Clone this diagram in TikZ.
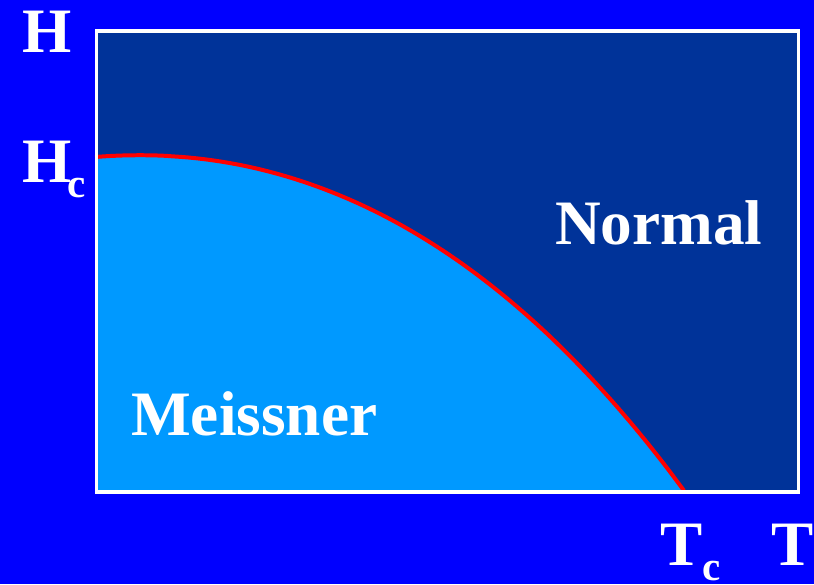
\documentclass[tikz,border=0pt]{standalone}
\usepackage{fontspec}
\setmainfont{Liberation Serif}
\usetikzlibrary{positioning}
\definecolor{bgblue}{RGB}{0,0,255}
\definecolor{normalblue}{RGB}{0,51,153}
\definecolor{meissblue}{RGB}{0,153,255}
\newcommand{\lowc}{\raisebox{-13pt}{\fontsize{35}{40}\selectfont c}}
\tikzset{lbl/.style={text=white,font=\fontsize{54}{60}\selectfont\bfseries,inner sep=0pt,anchor=base west},
  hcline/.style={red,line width=3.4pt}}

\begin{document}
\begin{tikzpicture}[x=0.03cm,y=-0.03cm]
\fill[bgblue] (0,0) rectangle (814,584);
\fill[normalblue] (95,30) rectangle (800,493);
% critical field curve H_c(T)
\fill[meissblue] (95,157) -- plot[domain=0.005:1,samples=120] ({95+590*\x},{157+335*(\x^2.4-0.134*\x*(1-\x)^4)}) -- (95,492) -- cycle;
\draw[hcline] (95,157) -- plot[domain=0.005:1,samples=120] ({95+590*\x},{157+335*(\x^2.4-0.134*\x*(1-\x)^4)});
\draw[white,line width=2.6pt] (96.5,31) rectangle (798.5,492);
% axis labels
\node[lbl] (h) at (22,52) {H};
\node[lbl] (hc) at (22,182) {H\kern-3pt\lowc};
\node[lbl] (tc) at (660,565) {T\lowc};
\node[lbl] (t) at (771,565) {T};
% phases
\node[lbl] (normal) at (555,244) {Normal};
\node[lbl] (meissner) at (131,435) {Meissner};
\end{tikzpicture}
\end{document}
